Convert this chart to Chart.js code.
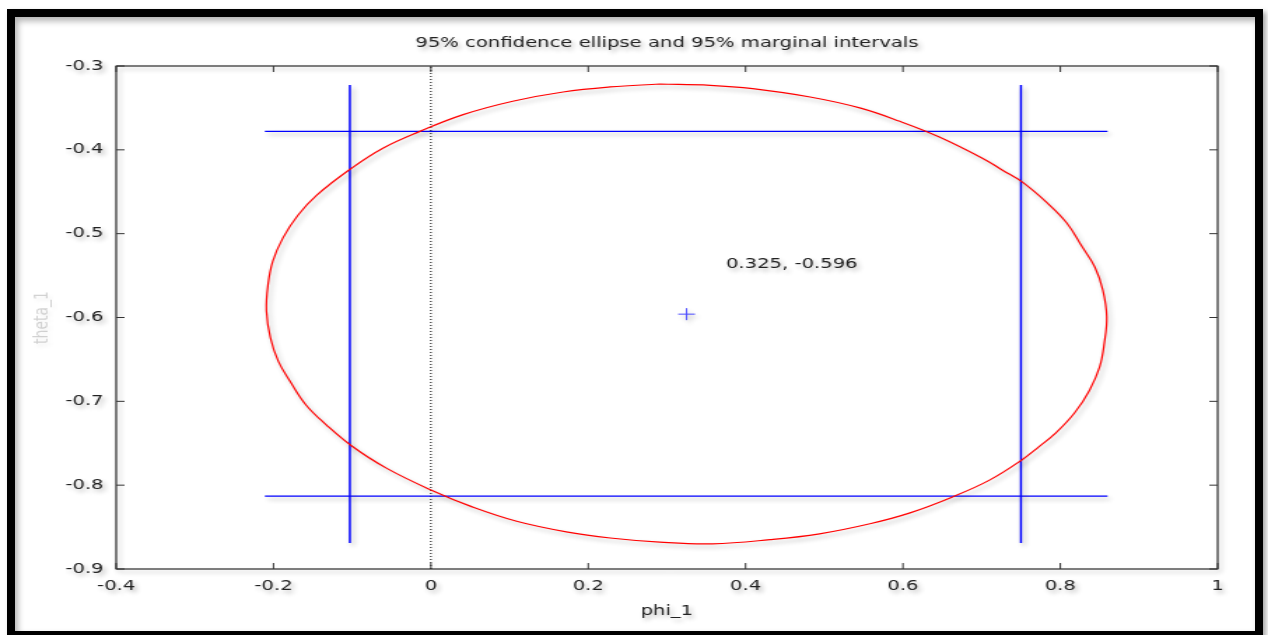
<!DOCTYPE html>
<html>
<head>
<meta charset="utf-8">
<title>95% confidence ellipse</title>
<script src="https://cdn.jsdelivr.net/npm/chart.js@4.4.1/dist/chart.umd.min.js"></script>
<style>
  html, body { margin: 0; padding: 0; background: #fff; overflow: hidden; }
  body { width: 1268px; height: 635px; position: relative; }
  /* the chart is drawn narrow and stretched sideways, like the original screenshot */
  #wrap { position: absolute; left: 0; top: 0; width: 906px; height: 635px; transform: scaleX(1.3996); transform-origin: 0 0; }
  #frame {
    position: absolute; left: 7px; top: 9px; width: 1256px; height: 630px;
    box-sizing: border-box; border: 8px solid #000;
    box-shadow: inset 3px 4px 6px rgba(0, 0, 0, 0.3), 3px 3px 5px rgba(0, 0, 0, 0.35);
    pointer-events: none;
  }
</style>
</head>
<body>
<div id="wrap"><canvas id="ellipse-chart"></canvas></div>
<div id="frame"></div>
<script>
// axis ticks
var xTicks = [-0.4, -0.2, 0, 0.2, 0.4, 0.6, 0.8, 1];
var xTickLabels = ['-0.4', '-0.2', '0', '0.2', '0.4', '0.6', '0.8', '1'];
var yTicks = [-0.9, -0.8, -0.7, -0.6, -0.5, -0.4, -0.3];
var yTickLabels = ['-0.9', '-0.8', '-0.7', '-0.6', '-0.5', '-0.4', '-0.3'];

// 95% confidence ellipse (phi_1, theta_1), clockwise from the top
var ellipsePhi = [0.291, 0.355, 0.409, 0.482, 0.545, 0.596, 0.647, 0.705, 0.726, 0.751,
  0.783, 0.808, 0.828, 0.844, 0.854, 0.859, 0.856, 0.850, 0.837, 0.818,
  0.794, 0.773, 0.751, 0.710, 0.663, 0.609, 0.558, 0.494, 0.431, 0.358,
  0.291, 0.228, 0.174, 0.109, 0.050, 0.003, -0.056, -0.101, -0.133, -0.159,
  -0.179, -0.194, -0.204, -0.209, -0.207, -0.201, -0.188, -0.169, -0.145, -0.101,
  -0.061, -0.014, 0.041, 0.104, 0.168, 0.228, 0.291];
var ellipseTheta = [-0.3215, -0.323, -0.327, -0.337, -0.350, -0.366, -0.385, -0.412, -0.424, -0.438,
  -0.463, -0.487, -0.516, -0.540, -0.567, -0.599, -0.630, -0.659, -0.687, -0.714,
  -0.738, -0.754, -0.770, -0.794, -0.814, -0.833, -0.846, -0.858, -0.865, -0.870,
  -0.868, -0.863, -0.856, -0.843, -0.825, -0.807, -0.780, -0.753, -0.728, -0.704,
  -0.676, -0.652, -0.624, -0.592, -0.561, -0.533, -0.505, -0.478, -0.454, -0.422,
  -0.398, -0.378, -0.358, -0.342, -0.331, -0.325, -0.3215];

// 95% marginal intervals
var phiInterval = [-0.103, 0.750];
var thetaInterval = [-0.813, -0.378];
var phiSpan = [-0.211, 0.860];
var thetaSpan = [-0.3227, -0.869];

// point estimate and its label
var estimate = [0.325, -0.596];
var estimateLabel = '0.325, -0.596';
var estimateLabelPos = [0.375, -0.537];

var titleText = '95% confidence ellipse and 95% marginal intervals';

Chart.defaults.font.family = "'DejaVu Sans', Verdana, sans-serif";
Chart.defaults.font.size = 14;
Chart.defaults.color = '#222';

function segment(x0, y0, x1, y1) {
  return [{ x: x0, y: y0 }, { x: x1, y: y1 }];
}

var ellipseData = ellipsePhi.map(function (p, i) {
  return { x: p, y: ellipseTheta[i] };
});

var lineBase = { showLine: true, pointRadius: 0, fill: false, tension: 0 };

var datasets = [
  Object.assign({}, lineBase, {
    label: 'ellipse', data: ellipseData, borderColor: '#ff0000', borderWidth: 1.2, tension: 0.4
  }),
  Object.assign({}, lineBase, {
    label: 'phi low', data: segment(phiInterval[0], thetaSpan[0], phiInterval[0], thetaSpan[1]),
    borderColor: '#0000ff', borderWidth: 1.5
  }),
  Object.assign({}, lineBase, {
    label: 'phi high', data: segment(phiInterval[1], thetaSpan[0], phiInterval[1], thetaSpan[1]),
    borderColor: '#0000ff', borderWidth: 1.5
  }),
  Object.assign({}, lineBase, {
    label: 'theta low', data: segment(phiSpan[0], thetaInterval[0], phiSpan[1], thetaInterval[0]),
    borderColor: '#0000ff', borderWidth: 1.3
  }),
  Object.assign({}, lineBase, {
    label: 'theta high', data: segment(phiSpan[0], thetaInterval[1], phiSpan[1], thetaInterval[1]),
    borderColor: '#0000ff', borderWidth: 1.3
  }),
  Object.assign({}, lineBase, {
    label: 'zero', data: segment(0, yTicks[0], 0, yTicks[yTicks.length - 1]),
    borderColor: '#000', borderWidth: 1, borderDash: [1, 2]
  }),
  {
    label: 'estimate', data: [{ x: estimate[0], y: estimate[1] }], showLine: false,
    pointStyle: 'cross', pointRadius: 6, borderColor: '#4a4aff', borderWidth: 1,
    backgroundColor: '#4a4aff'
  }
];

// gnuplot-like look: soft drop shadow, boxed plot with inner ticks, centred title, point label
var gnuplotLook = {
  id: 'gnuplotLook',
  beforeDraw: function (chart) {
    var ctx = chart.ctx;
    ctx.shadowColor = 'rgba(0, 0, 0, 0.3)';
    ctx.shadowBlur = 4;
    ctx.shadowOffsetX = 2;
    ctx.shadowOffsetY = 3;
  },
  afterDraw: function (chart) {
    var ctx = chart.ctx;
    var a = chart.chartArea;
    var xs = chart.scales.x;
    var ys = chart.scales.y;
    var tick = 6;

    ctx.save();
    ctx.strokeStyle = '#000';
    ctx.lineWidth = 1;
    ctx.strokeRect(a.left, a.top, a.right - a.left, a.bottom - a.top);

    ctx.shadowColor = 'rgba(0, 0, 0, 0)';
    ctx.beginPath();
    xTicks.forEach(function (v) {
      var px = xs.getPixelForValue(v);
      ctx.moveTo(px, a.bottom);
      ctx.lineTo(px, a.bottom - tick);
      ctx.moveTo(px, a.top);
      ctx.lineTo(px, a.top + tick);
    });
    yTicks.forEach(function (v) {
      var py = ys.getPixelForValue(v);
      ctx.moveTo(a.left, py);
      ctx.lineTo(a.left + tick, py);
      ctx.moveTo(a.right, py);
      ctx.lineTo(a.right - tick, py);
    });
    ctx.strokeStyle = '#333';
    ctx.stroke();

    ctx.shadowColor = 'rgba(0, 0, 0, 0.3)';
    ctx.fillStyle = '#222';
    ctx.font = "14px 'DejaVu Sans', Verdana, sans-serif";
    ctx.textBaseline = 'middle';
    ctx.textAlign = 'center';
    ctx.fillText(titleText, (a.left + a.right) / 2, 43);

    ctx.textAlign = 'left';
    ctx.fillText(estimateLabel, xs.getPixelForValue(estimateLabelPos[0]), ys.getPixelForValue(estimateLabelPos[1]));
    ctx.restore();

    ctx.shadowColor = 'rgba(0, 0, 0, 0)';
    ctx.shadowBlur = 0;
    ctx.shadowOffsetX = 0;
    ctx.shadowOffsetY = 0;
  }
};

new Chart(document.getElementById('ellipse-chart'), {
  type: 'scatter',
  data: { datasets: datasets },
  plugins: [gnuplotLook],
  options: {
    responsive: true,
    maintainAspectRatio: false,
    animation: false,
    events: [],
    layout: { padding: { top: 66, right: 36, bottom: 0, left: 0 } },
    plugins: {
      legend: { display: false },
      tooltip: { enabled: false },
      title: { display: false }
    },
    scales: {
      x: {
        type: 'linear',
        min: -0.4,
        max: 1,
        border: { display: false },
        grid: { display: false, drawTicks: false },
        afterBuildTicks: function (scale) {
          scale.ticks = xTicks.map(function (v) { return { value: v }; });
        },
        afterFit: function (scale) { scale.height = 66; },
        ticks: {
          padding: 9,
          maxRotation: 0,
          callback: function (value, index) { return xTickLabels[index]; }
        },
        title: {
          display: true,
          text: 'phi_1',
          padding: { top: 0, bottom: 15.6 }
        }
      },
      y: {
        type: 'linear',
        min: -0.9,
        max: -0.3,
        border: { display: false },
        grid: { display: false, drawTicks: false },
        afterBuildTicks: function (scale) {
          scale.ticks = yTicks.map(function (v) { return { value: v }; });
        },
        afterFit: function (scale) { scale.width = 83; },
        ticks: {
          padding: 9,
          callback: function (value, index) { return yTickLabels[index]; }
        },
        title: {
          display: true,
          text: 'theta_1',
          color: 'rgba(110, 110, 110, 0.3)',
          padding: { top: 22, bottom: 0 }
        }
      }
    }
  }
});
</script>
</body>
</html>
